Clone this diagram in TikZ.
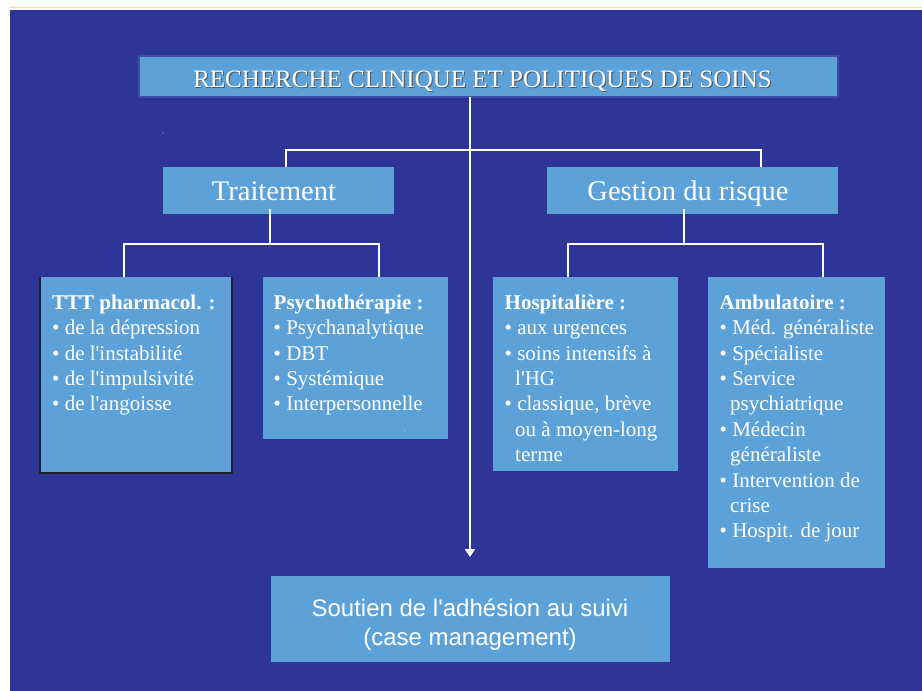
\documentclass[tikz,border=0pt]{standalone}
\usepackage{fontspec}
\setmainfont{Liberation Serif}[Ligatures=TeXOff]
\newfontfamily\sansf{Liberation Sans}[Ligatures=TeXOff]
\usetikzlibrary{arrows.meta,calc}
\definecolor{bgblue}{RGB}{47,53,150}
\definecolor{boxblue}{RGB}{92,162,216}
\definecolor{titleborder}{RGB}{58,78,165}
\definecolor{boxedge}{RGB}{32,32,40}
\begin{document}
\begin{tikzpicture}[x=1pt,y=-1pt,
  box/.style={fill=boxblue, draw=none, inner sep=0pt, outer sep=0pt, anchor=north west},
  conn/.style={draw=white, line width=2pt},
  body/.style={text=white, inner sep=0pt, anchor=north west, align=left, font=\fontsize{21}{25.4}\selectfont},
  head/.style={text=white, inner sep=0pt, anchor=base, font=\fontsize{28.5}{34}\selectfont},
  titletext/.style={inner sep=0pt, anchor=base, font=\fontsize{25}{30}\selectfont}
]
\useasboundingbox (0,0) rectangle (922,691);
\fill[white] (0,0) rectangle (922,691);
\fill[bgblue] (10,10) rectangle (922,691);
\draw[orange!35, line width=0.8pt] (10,7.5) -- (922,7.5);

% boxes
\node[box, draw=titleborder, line width=1.5pt, minimum width=699pt, minimum height=41pt] (T) at (139,56) {};
\node[box, minimum width=231pt, minimum height=47pt] (Tr) at (163,167) {};
\node[box, minimum width=291pt, minimum height=47pt] (G) at (547,167) {};
\node[box, minimum width=192pt, minimum height=196pt] (P1) at (40,277) {};
\node[box, minimum width=185pt, minimum height=162pt] (P2) at (263,277) {};
\node[box, minimum width=185pt, minimum height=194pt] (P3) at (493,277) {};
\node[box, minimum width=177pt, minimum height=291pt] (P4) at (708,277) {};
\node[box, minimum width=399pt, minimum height=86pt] (S) at (271,576) {};
\draw[boxedge, line width=1.8pt] (P1.north west) -- (P1.south west) -- (P1.south east) -- (P1.north east);

% title text with shadow
\node[titletext, text=black!65] (Tsh) at (483.6,88.1) {RECHERCHE CLINIQUE ET POLITIQUES DE SOINS};
\node[titletext, text=white] (Tt) at (482.5,87) {RECHERCHE CLINIQUE ET POLITIQUES DE SOINS};

% headings
\node[head] (TrT) at (274,200.5) {Traitement};
\node[head] (GT) at (688,200.5) {Gestion du risque};

% body texts
\node[body] (P1t) at (52,294.5) {\textbf{TTT pharmacol. :}\\• de la dépression\\• de l'instabilité\\• de l'impulsivité\\• de l'angoisse};
\node[body] (P2t) at (273.5,294.5) {\textbf{Psychothérapie :}\\• Psychanalytique\\• DBT\\• Systémique\\• Interpersonnelle};
\node[body] (P3t) at (504.5,294.5) {\textbf{Hospitalière :}\\• aux urgences\\• soins intensifs à\\\hspace*{0.5em}l'HG\\• classique, brève\\\hspace*{0.5em}ou à moyen-long\\\hspace*{0.5em}terme};
\node[body] (P4t) at (719.5,294.5) {\textbf{Ambulatoire :}\\• Méd. généraliste\\• Spécialiste\\• Service\\\hspace*{0.5em}psychiatrique\\• Médecin\\\hspace*{0.5em}généraliste\\• Intervention de\\\hspace*{0.5em}crise\\• Hospit. de jour};
\node[text=white, inner sep=0pt, align=center, font=\sansf\fontsize{24}{29}\selectfont] (St) at (470,625) {Soutien de l'adhésion au suivi\\(case management)};

% connectors
\coordinate (jL) at (286,150);
\coordinate (jR) at (761,150);
\draw[conn] (Tr.north -| jL) -- (jL) -- (jR) -- (G.north -| jR);
\coordinate (tip) at (470,557);
\draw[conn, -{Triangle[width=10pt,length=8pt]}] (T.south -| tip) -- (tip);

\coordinate (tA) at (270,244);
\coordinate (tL) at (124,244);
\coordinate (tR) at (379,244);
\draw[conn] ($(Tr.south -| tA)+(0,-5)$) -- (tA);
\draw[conn] (P1.north -| tL) -- (tL) -- (tR) -- (P2.north -| tR);

\coordinate (gA) at (684,244);
\coordinate (gL) at (568,244);
\coordinate (gR) at (823,244);
\draw[conn, line width=1.4pt] ($(G.south -| gA)+(0,-5)$) -- (gA);
\draw[conn] (P3.north -| gL) -- (gL) -- (gR) -- (P4.north -| gR);

% stray dots
\fill[white!60!bgblue] (163,133) circle (0.6);
\fill[white!60!boxblue] (405,431) circle (0.7);
\end{tikzpicture}
\end{document}
